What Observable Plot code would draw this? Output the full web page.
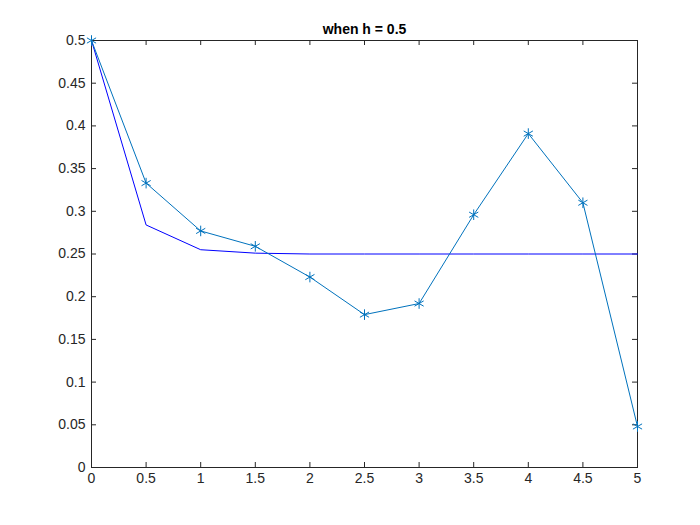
<!DOCTYPE html>
<html>
<head>
<meta charset="utf-8">
<script src="https://cdn.jsdelivr.net/npm/d3@7"></script>
<script src="https://cdn.jsdelivr.net/npm/@observablehq/plot@0.6"></script>
<style>
  body { margin: 0; background: #fff; }
  svg { font-family: "Liberation Sans", Arial, sans-serif; }
</style>
</head>
<body>
<div id="chart"></div>
<script>
const xs = [0, 0.5, 1, 1.5, 2, 2.5, 3, 3.5, 4, 4.5, 5];
const approx = [0.5, 0.333, 0.277, 0.259, 0.223, 0.179, 0.192, 0.296, 0.391, 0.310, 0.048];
const exact = [0.5, 0.284, 0.255, 0.251, 0.250, 0.250, 0.250, 0.250, 0.250, 0.250, 0.250];
const xTicks = [0, 0.5, 1, 1.5, 2, 2.5, 3, 3.5, 4, 4.5, 5];
const yTicks = [0, 0.05, 0.1, 0.15, 0.2, 0.25, 0.3, 0.35, 0.4, 0.45, 0.5];
const title = "when h = 0.5";

const approxRows = xs.map((x, i) => ({ x, y: approx[i] }));
const exactRows = xs.map((x, i) => ({ x, y: exact[i] }));

const tx = 5 / 546 * 5;   // ~5px in x units
const ty = 0.5 / 427 * 5; // ~5px in y units

const plot = Plot.plot({
  width: 700,
  height: 525,
  marginLeft: 91,
  marginRight: 63,
  marginTop: 40,
  marginBottom: 58,
  style: { fontSize: "14px", color: "#262626" },
  x: { domain: [0, 5], ticks: xTicks, tickFormat: d => String(d), label: null },
  y: { domain: [0, 0.5], ticks: yTicks, tickFormat: d => String(+d.toFixed(2)), label: null },
  marks: [
    Plot.axisX({ ticks: xTicks, tickSize: 0, tickPadding: 6, tickFormat: d => String(d), fontSize: 14 }),
    Plot.axisY({ ticks: yTicks, tickSize: 0, tickPadding: 6, tickFormat: d => String(+d.toFixed(2)), fontSize: 14 }),
    Plot.ruleX(xTicks, { y1: 0, y2: ty, stroke: "#262626" }),
    Plot.ruleX(xTicks, { y1: 0.5, y2: 0.5 - ty, stroke: "#262626" }),
    Plot.ruleY(yTicks, { x1: 0, x2: tx, stroke: "#262626" }),
    Plot.ruleY(yTicks, { x1: 5, x2: 5 - tx, stroke: "#262626" }),
    Plot.frame({ stroke: "#262626" }),
    Plot.line(exactRows, { x: "x", y: "y", stroke: "#0000ff", strokeWidth: 1 }),
    Plot.line(approxRows, { x: "x", y: "y", stroke: "#0072bd", strokeWidth: 1 }),
    Plot.dot(approxRows, { x: "x", y: "y", symbol: "asterisk", r: 5, stroke: "#0072bd", strokeWidth: 1 }),
    Plot.text([title], { frameAnchor: "top", dy: -16, fontWeight: "bold", fontSize: 14, fill: "#000" })
  ]
});
document.getElementById("chart").append(plot);
</script>
</body>
</html>
